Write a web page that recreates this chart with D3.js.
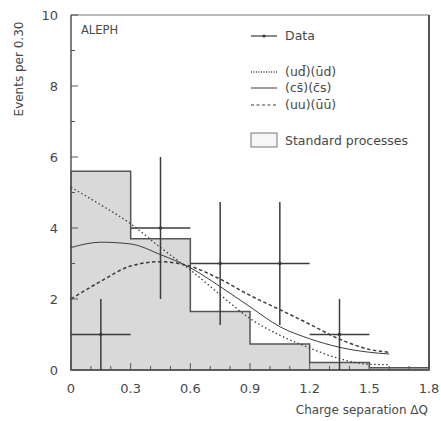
<!DOCTYPE html>
<html>
<head>
<meta charset="utf-8">
<script src="https://cdn.jsdelivr.net/npm/d3@7"></script>
<style>
  body { margin: 0; background: #fff; }
  text { font-family: "DejaVu Sans", sans-serif; fill: #484848; }
</style>
</head>
<body>
<script>
// histogram of standard processes, bins of 0.30
var binEdges = [0, 0.3, 0.6, 0.9, 1.2, 1.5, 1.8];
var standardCounts = [5.6, 3.7, 1.65, 0.73, 0.21, 0.06];

// data points
var dataX = [0.15, 0.45, 0.75, 1.05, 1.35];
var dataY = [1, 4, 3, 3, 1];
var dataErr = [1, 2, 1.73, 1.73, 1];

// model curves
var curveX = [0, 0.15, 0.3, 0.45, 0.6, 0.75, 0.9, 1.05, 1.2, 1.35, 1.5, 1.6];
var udCurve = [5.15, 4.65, 4.12, 3.45, 2.82, 2.12, 1.45, 0.98, 0.62, 0.32, 0.16, 0.15];
var csCurve = [3.45, 3.6, 3.55, 3.25, 2.88, 2.35, 1.78, 1.22, 0.88, 0.64, 0.5, 0.45];
var uuCurve = [2.0, 2.5, 2.93, 3.05, 2.92, 2.56, 2.1, 1.7, 1.29, 0.87, 0.58, 0.5];

var xTicks = [0, 0.3, 0.6, 0.9, 1.2, 1.5, 1.8];
var yTicks = [0, 2, 4, 6, 8, 10];

var legendNames = ["Data", "(ud\u0304)(\u016Bd)", "(cs\u0304)(c\u0304s)", "(uu)(\u016B\u016B)", "Standard processes"];

var width = 441, height = 421;
var pLeft = 71, pRight = 429, pTop = 15, pBottom = 370;
var ink = "#3c3c3c";

var svg = d3.select("body").append("svg")
    .attr("width", width)
    .attr("height", height);

var x = d3.scaleLinear().domain([0, 1.8]).range([pLeft, pRight]);
var y = d3.scaleLinear().domain([0, 10]).range([pBottom, pTop]);

// histogram as a step outline
var histPts = [[0, 0]];
for (var i = 0; i < standardCounts.length; i++) {
    histPts.push([binEdges[i], standardCounts[i]]);
    histPts.push([binEdges[i + 1], standardCounts[i]]);
}
histPts.push([1.8, 0]);
var line = d3.line().x(function (d) { return x(d[0]); }).y(function (d) { return y(d[1]); });

svg.append("path")
    .attr("d", line(histPts) + "Z")
    .attr("fill", "#d9d9d9")
    .attr("stroke", "#555")
    .attr("stroke-width", 1.5);

// frame
svg.append("line").attr("x1", pLeft).attr("x2", pRight).attr("y1", pTop).attr("y2", pTop)
    .attr("stroke", "#777").attr("stroke-width", 1.2);
svg.append("line").attr("x1", pRight).attr("x2", pRight).attr("y1", pTop).attr("y2", pBottom)
    .attr("stroke", "#555").attr("stroke-width", 2);
svg.append("line").attr("x1", pLeft).attr("x2", pRight).attr("y1", pBottom).attr("y2", pBottom)
    .attr("stroke", "#555").attr("stroke-width", 1.5);
svg.append("line").attr("x1", pLeft).attr("x2", pLeft).attr("y1", pTop).attr("y2", pBottom)
    .attr("stroke", "#555").attr("stroke-width", 1.5);

// ticks (inward)
var xMinor = d3.range(0, 19).map(function (k) { return k / 10; });
svg.append("g").selectAll("line").data(xMinor).enter().append("line")
    .attr("x1", function (d) { return x(d); }).attr("x2", function (d) { return x(d); })
    .attr("y1", pBottom)
    .attr("y2", function (d, k) { return k % 3 === 0 ? pBottom - 7 : pBottom - 4; })
    .attr("stroke", "#555").attr("stroke-width", 1);
var yMinor = d3.range(0, 11);
svg.append("g").selectAll("line").data(yMinor).enter().append("line")
    .attr("y1", function (d) { return y(d); }).attr("y2", function (d) { return y(d); })
    .attr("x1", pLeft)
    .attr("x2", function (d) { return d % 2 === 0 ? pLeft + 7 : pLeft + 4; })
    .attr("stroke", "#555").attr("stroke-width", 1);

// tick labels
svg.append("g").selectAll("text").data(xTicks).enter().append("text")
    .attr("x", function (d) { return x(d); })
    .attr("y", 393)
    .attr("text-anchor", "middle")
    .attr("font-size", 13)
    .text(function (d) { return d === 0 ? "0" : d3.format(".1f")(d); });
svg.append("g").selectAll("text").data(yTicks).enter().append("text")
    .attr("x", 58)
    .attr("y", function (d) { return y(d) + 5; })
    .attr("text-anchor", "end")
    .attr("font-size", 13)
    .text(function (d) { return d; });

// axis titles
svg.append("text")
    .attr("x", 428).attr("y", 414)
    .attr("text-anchor", "end")
    .attr("font-size", 12)
    .text("Charge separation \u0394Q");
svg.append("text")
    .attr("transform", "translate(23,69) rotate(-90)")
    .attr("text-anchor", "middle")
    .attr("font-size", 12)
    .text("Events per 0.30");

svg.append("text").attr("x", 81).attr("y", 34).attr("font-size", 11.5).text("ALEPH");

// model curves
var curveLine = d3.line()
    .x(function (d, k) { return x(curveX[k]); })
    .y(function (d) { return y(d); })
    .curve(d3.curveMonotoneX);
var styles = [
    {data: udCurve, dash: "1.5,2.5", w: 1.3},
    {data: csCurve, dash: null, w: 1},
    {data: uuCurve, dash: "3.5,2.5", w: 1.5}
];
styles.forEach(function (s) {
    svg.append("path")
        .attr("d", curveLine(s.data))
        .attr("fill", "none")
        .attr("stroke", ink)
        .attr("stroke-width", s.w)
        .attr("stroke-dasharray", s.dash);
});

// data points with error bars
var pts = svg.append("g").selectAll("g").data(dataX).enter().append("g");
pts.append("line")
    .attr("x1", function (d) { return x(d); }).attr("x2", function (d) { return x(d); })
    .attr("y1", function (d, k) { return y(Math.max(0, dataY[k] - dataErr[k])); })
    .attr("y2", function (d, k) { return y(dataY[k] + dataErr[k]); })
    .attr("stroke", ink).attr("stroke-width", 1.5);
pts.append("line")
    .attr("x1", function (d) { return x(d - 0.15); }).attr("x2", function (d) { return x(d + 0.15); })
    .attr("y1", function (d, k) { return y(dataY[k]); })
    .attr("y2", function (d, k) { return y(dataY[k]); })
    .attr("stroke", ink).attr("stroke-width", 1.5);
pts.append("circle")
    .attr("cx", function (d) { return x(d); })
    .attr("cy", function (d, k) { return y(dataY[k]); })
    .attr("r", 1.8).attr("fill", ink);

// legend
var lx1 = 251, lx2 = 277, tx = 285;
var legY = [36, 72, 88, 105, 141];
var lg = svg.append("g");
lg.append("line").attr("x1", lx1).attr("x2", lx2).attr("y1", legY[0]).attr("y2", legY[0])
    .attr("stroke", ink).attr("stroke-width", 1.2);
lg.append("circle").attr("cx", 264).attr("cy", legY[0]).attr("r", 1.6).attr("fill", ink);
styles.forEach(function (s, k) {
    lg.append("line").attr("x1", lx1).attr("x2", lx2)
        .attr("y1", legY[k + 1]).attr("y2", legY[k + 1])
        .attr("stroke", ink).attr("stroke-width", s.w === 1.5 ? 1 : s.w)
        .attr("stroke-dasharray", s.dash === null ? null : (k === 0 ? "1,1.5" : "3,2.5"));
});
lg.append("rect").attr("x", lx1).attr("y", 133).attr("width", lx2 - lx1).attr("height", 14)
    .attr("fill", "#f6f6f6").attr("stroke", "#777").attr("stroke-width", 1);
lg.selectAll("text.leg").data(legendNames).enter().append("text")
    .attr("class", "leg")
    .attr("x", tx)
    .attr("y", function (d, k) { return legY[k] + 4; })
    .attr("font-size", 12.5)
    .text(function (d) { return d; });
</script>
</body>
</html>
